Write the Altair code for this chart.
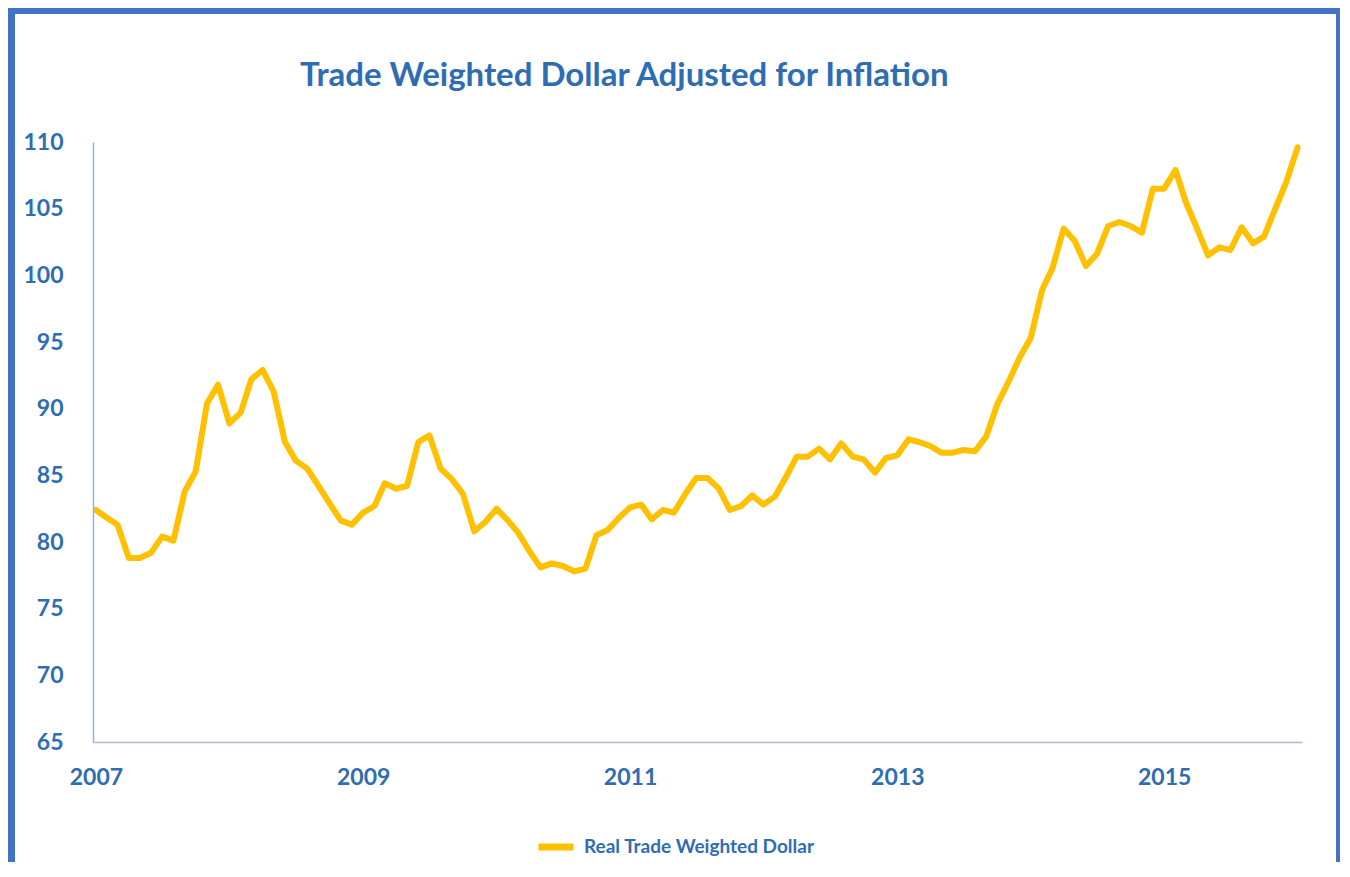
import altair as alt
import pandas as pd

title_text = "Trade Weighted Dollar Adjusted for Inflation"
series_name = "Real Trade Weighted Dollar"
start_month = "2007-01-01"
values = [
    82.4, 81.8, 81.3, 78.8, 78.8, 79.2, 80.4, 80.1, 83.8, 85.3, 90.4, 91.8,    # 2007
    88.9, 89.7, 92.2, 92.9, 91.3, 87.5, 86.1, 85.5, 84.2, 82.9, 81.6, 81.3,    # 2008
    82.2, 82.7, 84.4, 84.0, 84.2, 87.5, 88.0, 85.5, 84.7, 83.6, 80.8, 81.5,    # 2009
    82.5, 81.6, 80.7, 79.3, 78.1, 78.4, 78.2, 77.8, 78.0, 80.5, 80.9, 81.8,    # 2010
    82.6, 82.8, 81.7, 82.4, 82.2, 83.6, 84.8, 84.8, 84.0, 82.4, 82.7, 83.5,    # 2011
    82.8, 83.4, 84.8, 86.4, 86.4, 87.0, 86.2, 87.4, 86.4, 86.2, 85.2, 86.3,    # 2012
    86.5, 87.7, 87.5, 87.2, 86.7, 86.7, 86.9, 86.8, 87.9, 90.3, 92.0, 93.8,    # 2013
    95.3, 98.9, 100.5, 103.5, 102.6, 100.7, 101.6, 103.7, 104.0, 103.7, 103.2, 106.5,  # 2014
    106.5, 107.9, 105.5, 103.5, 101.5, 102.1, 101.9, 103.6, 102.4, 102.9, 105.0, 107.0,  # 2015
    109.6,
]
tick_years = [2007, 2009, 2011, 2013, 2015]
y_ticks = [65, 70, 75, 80, 85, 90, 95, 100, 105, 110]

dates = pd.date_range(start_month, periods=len(values), freq="MS")
df = pd.DataFrame({"date": dates, "value": values, "series": series_name})

TEXT_BLUE = "#2E6DB4"
FRAME_BLUE = "#4472C4"
LINE_GOLD = "#FFC000"

frame = alt.Chart(alt.Data(values=[{}])).mark_rect(color="white").encode(
    x=alt.value(-78), x2=alt.value(1243), y=alt.value(-128), y2=alt.value(760)
)

title = alt.Chart(alt.Data(values=[{"t": title_text}])).mark_text(
    font="Lato", fontSize=33, fontWeight="bold", color=TEXT_BLUE,
    align="left", baseline="alphabetic",
).encode(text="t:N", x=alt.value(207), y=alt.value(-56))

line = alt.Chart(df).mark_line(strokeWidth=6, strokeJoin="round", strokeCap="round").encode(
    x=alt.X(
        "date:T",
        scale=alt.Scale(domain=[alt.DateTime(year=2006, month=12, date=24),
                                alt.DateTime(year=2016, month=1, date=13)]),
        axis=alt.Axis(
            values=[alt.DateTime(year=y, month=1, date=1) for y in tick_years],
            format="%Y", title=None, ticks=False, grid=False,
            domainColor="#A9BCD0", domainWidth=1.5,
            labelFont="Lato", labelFontWeight="bold", labelFontSize=23,
            labelColor=TEXT_BLUE, labelPadding=24, labelFlush=False,
            labelOverlap=False, zindex=1,
        ),
    ),
    y=alt.Y(
        "value:Q",
        scale=alt.Scale(domain=[65, 110], nice=False, zero=False),
        axis=alt.Axis(
            values=y_ticks, title=None, ticks=False, grid=False,
            domainColor="#8EB4E3", domainWidth=1.5,
            labelFont="Lato", labelFontWeight="bold", labelFontSize=23,
            labelColor=TEXT_BLUE, labelPadding=30, labelOverlap=False, zindex=1,
        ),
    ),
    color=alt.Color(
        "series:N",
        scale=alt.Scale(domain=[series_name], range=[LINE_GOLD]),
        legend=alt.Legend(
            title=None, orient="none", legendX=442, legendY=684,
            symbolType="stroke", symbolStrokeWidth=7, symbolSize=1225,
            labelFont="Lato", labelFontWeight="bold", labelFontSize=19,
            labelColor=TEXT_BLUE, labelOffset=7, labelLimit=0, zindex=1,
        ),
    ),
)

chart = alt.layer(frame, title, line).properties(
    width=1209,
    height=600,
    background=FRAME_BLUE,
    padding={"left": 85, "top": 134, "right": 38, "bottom": 120},
    autosize=alt.AutoSizeParams(type="none"),
).configure_view(stroke=None)

chart.save("out.html", embed_options={"renderer": "svg", "actions": False})
